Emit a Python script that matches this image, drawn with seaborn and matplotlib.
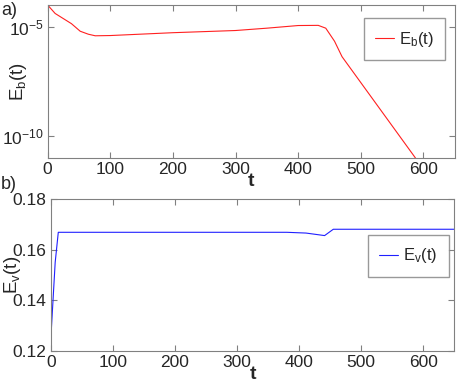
import numpy as np
import pandas as pd
import matplotlib
matplotlib.use("Agg")
import matplotlib.pyplot as plt
import seaborn as sns

# panel a) magnetic energy (log scale)
t_b = [0, 12, 38, 52, 65, 76, 100, 200, 300, 350, 400, 432, 444, 458, 470, 586, 650]
E_b = [1.0e-4, 4.1e-5, 1.4e-5, 6.3e-6, 4.6e-6, 3.9e-6, 4.0e-6, 5.4e-6, 6.8e-6,
       8.7e-6, 1.15e-5, 1.17e-5, 8.7e-6, 2.2e-6, 4.3e-7, 1.1e-11, 3.0e-14]

# panel b) kinetic energy
t_v = [0, 7, 12, 380, 411, 441, 455, 650]
E_v = [0.125, 0.155, 0.1669, 0.1669, 0.1666, 0.1656, 0.1681, 0.1681]

sns.set_style("ticks")
plt.rcParams['font.family'] = ['Liberation Sans', 'DejaVu Sans']
plt.rcParams['mathtext.fontset'] = 'custom'
plt.rcParams['mathtext.rm'] = 'Liberation Sans'
plt.rcParams['mathtext.it'] = 'Liberation Sans'
plt.rcParams['mathtext.default'] = 'regular'

fig = plt.figure(figsize=(4.58, 3.86), dpi=100)
ax1 = fig.add_axes([0.104, 0.591, 0.889, 0.396])
ax2 = fig.add_axes([0.111, 0.091, 0.881, 0.393])

df_b = pd.DataFrame({"t": t_b, "E": E_b})
df_v = pd.DataFrame({"t": t_v, "E": E_v})

sns.lineplot(data=df_b, x="t", y="E", ax=ax1, color="#ff2020", lw=0.8, label="$E_b(t)$")
sns.lineplot(data=df_v, x="t", y="E", ax=ax2, color="#2020ff", lw=0.8, label="$E_v(t)$")

ax1.set_yscale("log")
ax1.set_ylim(1e-11, 1e-4)
ax1.set_yticks([1e-10, 1e-5])
ax1.minorticks_off()
ax2.set_ylim(0.12, 0.18)
ax2.set_yticks([0.12, 0.14, 0.16, 0.18])
ax2.set_yticklabels(["0.12", "0.14", "0.16", "0.18"])

for ax, lab, lx in [(ax1, "$E_b(t)$", -0.045), (ax2, "$E_v(t)$", -0.069)]:
    ax.set_xlim(0, 650)
    ax.set_xticks([0, 100, 200, 300, 400, 500, 600])
    ax.tick_params(direction="in", top=True, right=True, labelsize=12.5, length=4,
                   color="#808080", width=0.8, pad=3)
    for s in ax.spines.values():
        s.set_visible(True)
        s.set_color("#808080")
        s.set_linewidth(0.8)
    ax.set_xlabel("t", fontsize=14, fontweight="bold", labelpad=-3)
    ax.set_ylabel(lab, fontsize=13.5)
    ax.yaxis.set_label_coords(lx, 0.5)

leg1 = ax1.legend(loc="upper right", bbox_to_anchor=(0.976, 0.915), fontsize=12,
                  frameon=True, fancybox=False, handlelength=1.1, handletextpad=0.3,
                  borderpad=0.7, borderaxespad=0)
leg1.get_frame().set_edgecolor("#808080")
leg2 = ax2.legend(loc="upper right", bbox_to_anchor=(0.986, 0.765), fontsize=12,
                  frameon=True, fancybox=False, handlelength=1.1, handletextpad=0.3,
                  borderpad=0.7, borderaxespad=0)
leg2.get_frame().set_edgecolor("#808080")

fig.text(0.002, 0.995, "a)", fontsize=13, va="top")
fig.text(0.002, 0.545, "b)", fontsize=13, va="top")

fig.savefig("out.png", dpi=100)
